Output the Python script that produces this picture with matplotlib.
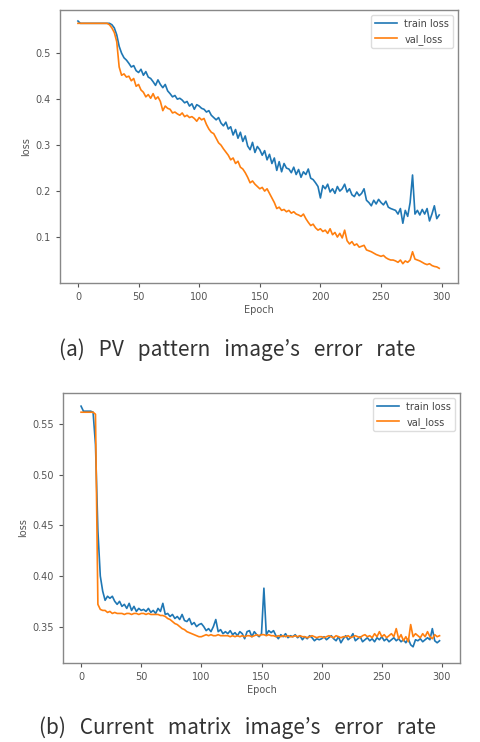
import numpy as np
import matplotlib.pyplot as plt

# epochs sampled every 2
epochs = np.arange(0, 300, 2)

# (a) PV pattern image
pv_train = [
    0.570, 0.565, 0.565, 0.565, 0.565, 0.565, 0.565, 0.565, 0.565, 0.565,
    0.565, 0.565, 0.565, 0.565, 0.562, 0.555, 0.540, 0.515, 0.500, 0.490,
    0.485, 0.478, 0.470, 0.473, 0.462, 0.458, 0.465, 0.452, 0.460, 0.448,
    0.445, 0.438, 0.430, 0.442, 0.432, 0.425, 0.432, 0.418, 0.412, 0.405,
    0.408, 0.400, 0.402, 0.398, 0.392, 0.395, 0.385, 0.390, 0.378, 0.388,
    0.385, 0.380, 0.378, 0.372, 0.375, 0.365, 0.360, 0.355, 0.360, 0.348,
    0.342, 0.350, 0.335, 0.340, 0.322, 0.334, 0.315, 0.328, 0.308, 0.320,
    0.298, 0.290, 0.306, 0.284, 0.297, 0.290, 0.278, 0.288, 0.268, 0.280,
    0.260, 0.272, 0.245, 0.264, 0.242, 0.260, 0.250, 0.248, 0.240, 0.252,
    0.236, 0.247, 0.230, 0.242, 0.236, 0.248, 0.228, 0.225, 0.218, 0.210,
    0.185, 0.212, 0.205, 0.215, 0.198, 0.205, 0.195, 0.210, 0.200, 0.205,
    0.215, 0.198, 0.205, 0.192, 0.188, 0.198, 0.190, 0.195, 0.205, 0.180,
    0.175, 0.168, 0.180, 0.172, 0.182, 0.175, 0.170, 0.178, 0.165, 0.162,
    0.160, 0.158, 0.150, 0.162, 0.130, 0.158, 0.145, 0.175, 0.235, 0.150,
    0.158, 0.148, 0.160, 0.150, 0.162, 0.135, 0.150, 0.168, 0.140, 0.148,
]
pv_val = [
    0.565, 0.565, 0.565, 0.565, 0.565, 0.565, 0.565, 0.565, 0.565, 0.565,
    0.565, 0.565, 0.565, 0.562, 0.555, 0.545, 0.525, 0.470, 0.452, 0.455,
    0.448, 0.450, 0.440, 0.445, 0.428, 0.432, 0.420, 0.415, 0.405, 0.410,
    0.402, 0.412, 0.400, 0.405, 0.395, 0.375, 0.385, 0.380, 0.378, 0.370,
    0.372, 0.368, 0.365, 0.370, 0.362, 0.365, 0.360, 0.362, 0.358, 0.352,
    0.360, 0.355, 0.358, 0.345, 0.335, 0.328, 0.325, 0.315, 0.305, 0.300,
    0.292, 0.285, 0.278, 0.268, 0.272, 0.260, 0.265, 0.252, 0.248, 0.240,
    0.230, 0.218, 0.222, 0.215, 0.210, 0.205, 0.208, 0.200, 0.205, 0.195,
    0.185, 0.175, 0.162, 0.165, 0.158, 0.160, 0.155, 0.158, 0.152, 0.155,
    0.150, 0.148, 0.145, 0.150, 0.140, 0.132, 0.125, 0.128, 0.120, 0.115,
    0.118, 0.112, 0.115, 0.108, 0.118, 0.105, 0.110, 0.100, 0.108, 0.098,
    0.115, 0.092, 0.085, 0.090, 0.082, 0.085, 0.078, 0.080, 0.082, 0.072,
    0.070, 0.068, 0.065, 0.062, 0.060, 0.058, 0.060, 0.055, 0.052, 0.050,
    0.050, 0.048, 0.045, 0.050, 0.042, 0.048, 0.045, 0.050, 0.068, 0.052,
    0.050, 0.048, 0.045, 0.042, 0.040, 0.042, 0.038, 0.036, 0.035, 0.032,
]

# (b) Current matrix image
cm_train = [
    0.568, 0.563, 0.563, 0.563, 0.563, 0.562, 0.530, 0.445, 0.400, 0.385,
    0.376, 0.380, 0.378, 0.380, 0.375, 0.372, 0.375, 0.370, 0.372, 0.368,
    0.373, 0.366, 0.370, 0.365, 0.368, 0.366, 0.367, 0.365, 0.368, 0.364,
    0.366, 0.363, 0.368, 0.365, 0.373, 0.362, 0.363, 0.360, 0.362, 0.358,
    0.360, 0.357, 0.362, 0.356, 0.355, 0.358, 0.352, 0.354, 0.350, 0.352,
    0.353, 0.350, 0.346, 0.348, 0.345, 0.350, 0.357, 0.345, 0.347, 0.343,
    0.345, 0.343, 0.346, 0.342, 0.344, 0.341, 0.345, 0.343, 0.338, 0.345,
    0.346, 0.340, 0.345, 0.342, 0.340, 0.343, 0.388, 0.342, 0.346, 0.344,
    0.346, 0.341, 0.338, 0.342, 0.340, 0.343, 0.339, 0.341, 0.340, 0.342,
    0.339, 0.341, 0.337, 0.340, 0.338, 0.341, 0.339, 0.336, 0.338, 0.337,
    0.338, 0.340, 0.337, 0.339, 0.341, 0.338, 0.336, 0.340, 0.334, 0.338,
    0.341, 0.337, 0.339, 0.343, 0.336, 0.338, 0.340, 0.335, 0.337, 0.339,
    0.336, 0.338, 0.335, 0.339, 0.337, 0.340, 0.336, 0.338, 0.335, 0.337,
    0.339, 0.336, 0.338, 0.335, 0.337, 0.334, 0.338, 0.332, 0.330, 0.337,
    0.336, 0.338, 0.335, 0.337, 0.339, 0.337, 0.348, 0.336, 0.334, 0.336,
]
cm_val = [
    0.562, 0.562, 0.562, 0.562, 0.562, 0.562, 0.560, 0.372, 0.367, 0.366,
    0.366, 0.364, 0.365, 0.363, 0.364, 0.363, 0.363, 0.363, 0.362, 0.363,
    0.363, 0.362, 0.363, 0.363, 0.362, 0.363, 0.363, 0.362, 0.363, 0.362,
    0.362, 0.362, 0.362, 0.361, 0.361, 0.360, 0.358, 0.357, 0.355, 0.353,
    0.352, 0.350, 0.348, 0.347, 0.345, 0.344, 0.343, 0.342, 0.341, 0.340,
    0.340, 0.341, 0.342, 0.341, 0.342, 0.341, 0.341, 0.342, 0.341, 0.341,
    0.341, 0.341, 0.340, 0.341, 0.340, 0.341, 0.340, 0.341, 0.340, 0.341,
    0.341, 0.340, 0.341, 0.342, 0.341, 0.342, 0.342, 0.341, 0.342, 0.341,
    0.341, 0.340, 0.341, 0.340, 0.341, 0.340, 0.341, 0.340, 0.340, 0.341,
    0.340, 0.341, 0.340, 0.340, 0.339, 0.340, 0.341, 0.340, 0.339, 0.340,
    0.340, 0.339, 0.340, 0.341, 0.340, 0.339, 0.341, 0.340, 0.339, 0.340,
    0.340, 0.341, 0.339, 0.340, 0.341, 0.340, 0.339, 0.341, 0.342, 0.340,
    0.341, 0.339, 0.343, 0.340, 0.345, 0.340, 0.342, 0.339, 0.341, 0.343,
    0.340, 0.348, 0.338, 0.342, 0.336, 0.340, 0.335, 0.352, 0.340, 0.343,
    0.341, 0.339, 0.343, 0.340, 0.345, 0.340, 0.338, 0.342, 0.340, 0.341,
]

captions = ["(a)   PV   pattern   image\u2019s   error   rate",
            "(b)   Current   matrix   image\u2019s   error   rate"]

W, H = 481, 742
fig = plt.figure(figsize=(W / 100, H / 100), dpi=100)

# axes rectangles from pixel boxes (left, top, right, bottom)
boxes = [(60, 10, 458, 283), (63, 393, 460, 663)]
ylims = [(0.0, 0.594), (0.314, 0.581)]
xlims = [(-14.8, 313.5), (-15, 315)]
yticks = [[0.1, 0.2, 0.3, 0.4, 0.5], [0.35, 0.40, 0.45, 0.50, 0.55]]
yfmt = ["{:.1f}", "{:.2f}"]
series = [(pv_train, pv_val), (cm_train, cm_val)]
cap_y = [350, 728]

for i in range(2):
    l, t, r, b = boxes[i]
    ax = fig.add_axes([l / W, 1 - b / H, (r - l) / W, (b - t) / H])
    tr, va = series[i]
    ax.plot(epochs, tr, color='#1f77b4', lw=1.2, label='train loss')
    ax.plot(epochs, va, color='#ff7f0e', lw=1.2, label='val_loss')
    ax.set_xlim(*xlims[i])
    ax.set_ylim(*ylims[i])
    ax.set_xticks([0, 50, 100, 150, 200, 250, 300])
    ax.set_yticks(yticks[i])
    ax.set_yticklabels([yfmt[i].format(v) for v in yticks[i]])
    ax.tick_params(labelsize=7, colors='#555555', length=3, width=0.8)
    for s in ax.spines.values():
        s.set_color('#888888')
        s.set_linewidth(1.0)
    ax.set_xlabel('Epoch', fontsize=7, color='#555555', labelpad=2)
    ax.set_ylabel('loss', fontsize=7, color='#555555', labelpad=3)
    leg = ax.legend(loc='upper right', fontsize=7, framealpha=1.0,
                    edgecolor='#dddddd', handlelength=2.2)
    for txt in leg.get_texts():
        txt.set_color('#444444')
    fig.text(237.5 / W, 1 - cap_y[i] / H, captions[i], ha='center', va='center',
             fontsize=15, color='#333333', family=['Noto Sans CJK KR', 'DejaVu Sans'])

plt.savefig('out.png', dpi=100)
